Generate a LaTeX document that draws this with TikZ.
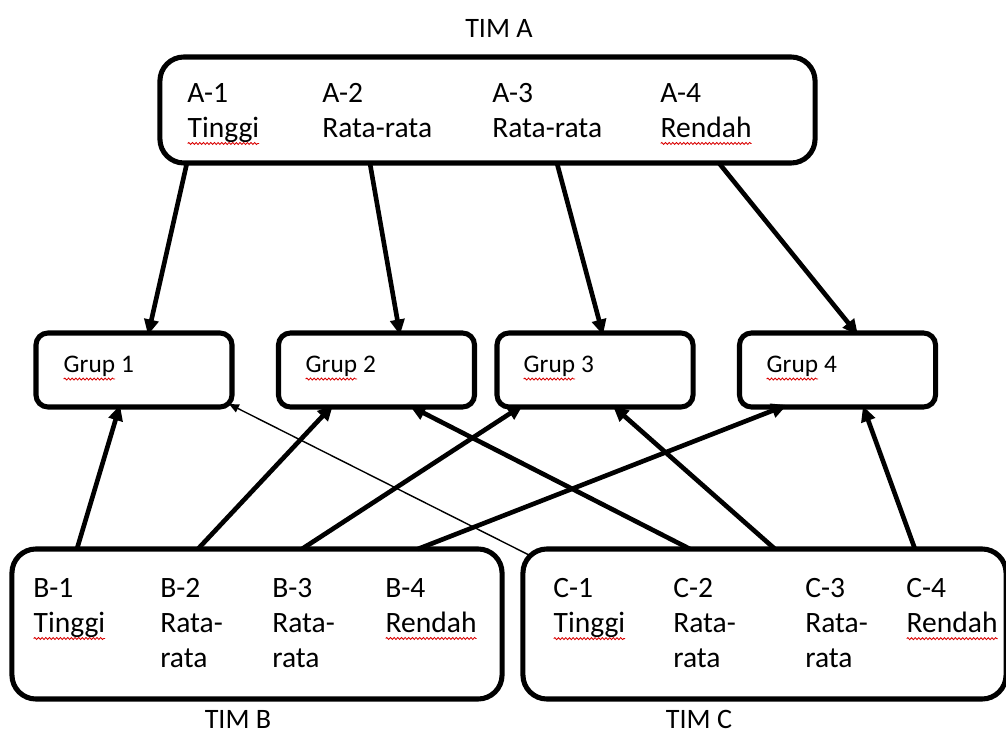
\documentclass[tikz,border=0pt]{standalone}
\usepackage{fontspec}
\setmainfont{Carlito}
\usetikzlibrary{arrows.meta,calc,decorations.pathmorphing}

\newcommand{\spell}[1]{\tikz[baseline=(w.base)]{\node[inner sep=0pt,outer sep=0pt] (w) {#1};
  \draw[red!85!black,line width=0.6pt,decorate,decoration={snake,amplitude=0.7pt,segment length=2.6pt}] ([yshift=-4.3pt]w.base west) -- ([yshift=-4.3pt]w.base east);}}

\begin{document}
\begin{tikzpicture}[x=0.025cm,y=-0.025cm,team/.style={draw,line width=3.6pt,rounded corners=0.6cm,minimum height=3.75cm,outer sep=0pt,inner sep=0pt},grup/.style={draw,line width=3.6pt,rounded corners=0.3cm,minimum width=4.9cm,minimum height=1.85cm,outer sep=0pt,inner sep=0pt},lbl/.style={anchor=north west,align=left,inner sep=0pt,font=\fontsize{21}{25}\selectfont},glbl/.style={anchor=base west,inner sep=0pt,font=\fontsize{18}{22}\selectfont},tim/.style={anchor=base,inner sep=0pt,font=\fontsize{20}{24}\selectfont},link/.style={line width=3.3pt,-{Triangle[length=11pt,width=10pt]}},thinlink/.style={line width=1pt,-{Triangle[length=7pt,width=6pt]}}]
\useasboundingbox (0,0) rectangle (1006,734);

\node[team,minimum width=16.375cm,minimum height=2.65cm] (timA) at (487.5,110) {};
\node[tim] (labA) at (499,38) {TIM A};
\node[lbl] (a1) at (187,83) {A-1\\\spell{Tinggi}};
\node[lbl] (a2) at (322,83) {A-2\\Rata-rata};
\node[lbl] (a3) at (492,83) {A-3\\Rata-rata};
\node[lbl] (a4) at (660,83) {A-4\\\spell{Rendah}};

\node[grup] (grup1) at (134,370) {};
\node[glbl] (g1) at (63,373) {\spell{Grup} 1};
\node[grup] (grup2) at (376.5,370) {};
\node[glbl] (g2) at (305,373) {\spell{Grup} 2};
\node[grup] (grup3) at (595,370) {};
\node[glbl] (g3) at (523,373) {\spell{Grup} 3};
\node[grup] (grup4) at (837.5,370) {};
\node[glbl] (g4) at (766,373) {\spell{Grup} 4};

\node[team,minimum width=12.25cm] (timB) at (257,624) {};
\node[tim] (labB) at (238,728) {TIM B};
\node[lbl] (b1) at (33,578) {B-1\\\spell{Tinggi}};
\node[lbl] (b2) at (160,578) {B-2\\Rata-\\rata};
\node[lbl] (b3) at (272,578) {B-3\\Rata-\\rata};
\node[lbl] (b4) at (385,578) {B-4\\\spell{Rendah}};

\node[team,minimum width=12.075cm] (timC) at (764.5,624) {};
\node[tim] (labC) at (699,728) {TIM C};
\node[lbl] (c1) at (553,578) {C-1\\\spell{Tinggi}};
\node[lbl] (c2) at (673,578) {C-2\\Rata-\\rata};
\node[lbl] (c3) at (805,578) {C-3\\Rata-\\rata};
\node[lbl] (c4) at (906,578) {C-4\\\spell{Rendah}};

\draw[link] ($(timA.south west)+(27,0)$) -- ($(grup1.north)+(14,2)$);
\draw[link] ($(timA.south west)+(210,0)$) -- ($(grup2.north)+(23.5,2)$);
\draw[link] ($(timA.south west)+(397,0)$) -- ($(grup3.north)+(8,2)$);
\draw[link] ($(timA.south west)+(559,0)$) -- ($(grup4.north)+(20.5,2)$);

\draw[link] ($(timB.north west)+(65,0)$) -- ($(grup1.south)+(-14,-2)$);
\draw[link] ($(timB.north west)+(186,0)$) -- ($(grup2.south)+(-43.5,-2)$);
\draw[link] ($(timB.north west)+(290,0)$) -- ($(grup3.south)+(-72,-2)$);
\draw[link] ($(timB.north west)+(406,0)$) -- ($(grup4.south)+(-50.5,-2)$);

\draw[thinlink] ($(timC.north west)+(6,6)$) -- ($(grup1.south east)+(-3,-3)$);
\draw[link] ($(timC.north west)+(167,0)$) -- ($(grup2.south)+(33.5,-1)$);
\draw[link] ($(timC.north west)+(252,0)$) -- ($(grup3.south)+(18,-1)$);
\draw[link] ($(timC.north west)+(392,0)$) -- ($(grup4.south)+(25.5,-1)$);
\end{tikzpicture}
\end{document}
